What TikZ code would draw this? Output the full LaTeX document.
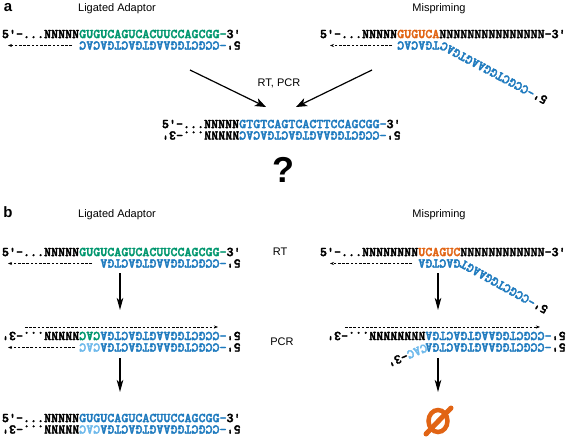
\documentclass[tikz,border=0pt]{standalone}
\usepackage{fontspec}
\setmainfont{Liberation Sans}
\newfontfamily\seqfont{lmmonolt10-bold.otf}[FakeBold=2.5]
\usetikzlibrary{arrows.meta}
\definecolor{sgreen}{RGB}{0,150,110}
\definecolor{sblue}{RGB}{30,122,190}
\definecolor{slight}{RGB}{110,185,235}
\definecolor{sorange}{RGB}{225,100,20}
\newcommand{\colG}[1]{\textcolor{sgreen}{#1}}
\newcommand{\colB}[1]{\textcolor{sblue}{#1}}
\newcommand{\colL}[1]{\textcolor{slight}{#1}}
\newcommand{\colO}[1]{\textcolor{sorange}{#1}}
\begin{document}
\begin{tikzpicture}[x=1pt,y=-1pt,
  seqtop/.style={font={\seqfont\fontsize{13.37}{14}\selectfont}, inner sep=0pt, outer sep=0pt, anchor=base west},
  seqbot/.style={seqtop, rotate=180},
  lab/.style={font={\fontsize{11}{13}\selectfont}, inner sep=0pt},
  panel/.style={font={\bfseries\fontsize{15}{16}\selectfont}, inner sep=0pt},
  bigarrow/.style={line width=1.2pt, -{Stealth[length=11pt,width=8.5pt,inset=3pt]}},
  downarrow/.style={line width=1.1pt, -{Stealth[length=12pt,width=6.5pt,inset=3pt]}},
  dasharrow/.style={line width=0.6pt, dash pattern=on 2.6pt off 1.6pt, -{Stealth[length=4pt,width=3pt]}},
]
\useasboundingbox (0,0) rectangle (567,441);

% ---------- panel a ----------
\node[panel] (pa) at (8,8) {a};
\node[lab] (taL) at (117,9) {Ligated Adaptor};
\node[lab] (taR) at (439,9) {Mispriming};

\node[seqtop] (aL1) at (2,38.1) {5'-...NNNNN\colG{GUGUCAGUCACUUCCAGCGG-}3'};
\node[seqbot] (aL2) at (240.68,41.4) {5'\colB{-CCGCTGGAAGTGACTGACAC}};
\coordinate (aLdS) at (72,45.5); \coordinate (aLdE) at (8,45.5);
\draw[dasharrow] (aLdS) -- (aLdE);

\node[seqtop] (aR1) at (320,38.1) {5'-...NNNNN\colO{GUGUCA}NNNNNNNNNNNNNNN-3'};
\node[seqbot] (aR2) at (439.34,41.4) {\colB{TGACAC}};
\node[seqtop, anchor=base east, rotate=152] (aR3) at (443,41.4) {5'\colB{-CCGCTGGAAGTGAC}};
\coordinate (aRdS) at (392,45.5); \coordinate (aRdE) at (330,45.5);
\draw[dasharrow] (aRdS) -- (aRdE);

\coordinate (aA1s) at (190,70); \coordinate (aA1e) at (266,107);
\coordinate (aA2s) at (372,70); \coordinate (aA2e) at (296,107);
\draw[bigarrow] (aA1s) -- (aA1e);
\draw[bigarrow] (aA2s) -- (aA2e);
\node[lab] (rtpcr) at (279,83) {RT, PCR};

\node[seqtop] (aM1) at (162,128.1) {5'-...NNNNN\colB{GTGTCAGTCACTTCCAGCGG-}3'};
\node[seqbot] (aM2) at (400.68,131.4) {5'\colB{-CCGCTGGAAGTGACTGACAC}NNNNN...-3'};
\node[font={\bfseries\fontsize{36}{40}\selectfont}, inner sep=0pt] (qm) at (283,170) {?};

% ---------- panel b ----------
\node[panel] (pb) at (8,212) {b};
\node[lab] (tbL) at (117,215) {Ligated Adaptor};
\node[lab] (tbR) at (439,215) {Mispriming};

% RT
\node[seqtop] (bL1) at (2,256.1) {5'-...NNNNN\colG{GUGUCAGUCACUUCCAGCGG-}3'};
\node[seqbot] (bL2) at (240.68,259.4) {5'\colB{-CCGCTGGAAGTGACTGA}};
\coordinate (bLdS) at (92,263.5); \coordinate (bLdE) at (8,263.5);
\draw[dasharrow] (bLdS) -- (bLdE);
\node[lab] (rt) at (280,252) {RT};

\node[seqtop] (bR1) at (320,256.1) {5'-...NNNNNNNN\colO{UCAGUC}NNNNNNNNNNNN-3'};
\node[seqbot] (bR2) at (460.4,259.4) {\colB{GACTGA}};
\node[seqtop, anchor=base east, rotate=151] (bR3) at (463,259.4) {5'\colB{-CCGCTGGAAGT}};
\coordinate (bRdS) at (412,263.5); \coordinate (bRdE) at (330,263.5);
\draw[dasharrow] (bRdS) -- (bRdE);

\coordinate (dL1s) at (120,273); \coordinate (dL1e) at (120,310);
\coordinate (dR1s) at (438,273); \coordinate (dR1e) at (438,310);
\draw[downarrow] (dL1s) -- (dL1e);
\draw[downarrow] (dR1s) -- (dR1e);

% PCR
\coordinate (pLtS) at (25,327); \coordinate (pLtE) at (218,327);
\draw[dasharrow] (pLtS) -- (pLtE);
\node[seqbot] (pL1) at (240.68,331.9) {5'\colB{-CCGCTGGAAGTGACTGA}\colG{CAC}NNNNN...-3'};
\node[seqbot] (pL2) at (240.68,343.4) {5'\colB{-CCGCTGGAAGTGACTGA}\colL{CAC}};
\coordinate (pLdS) at (75,347.5); \coordinate (pLdE) at (8,347.5);
\draw[dasharrow] (pLdS) -- (pLdE);
\node[lab] (pcr) at (282,342) {PCR};

\coordinate (pRtS) at (345,327); \coordinate (pRtE) at (540,327);
\draw[dasharrow] (pRtS) -- (pRtE);
\node[seqbot] (pR1) at (565.7,331.9) {5'\colB{-CCGCTGGAAGTGACTGA}NNNNNNNN...-3'};
\node[seqbot] (pR2) at (565.7,343.4) {5'\colB{-CCGCTGGAAGTGACTGA}};
\node[seqtop, rotate=203] (pR3) at (425.3,343.4) {\colL{CAC}-3'};

\coordinate (dL2s) at (120,358); \coordinate (dL2e) at (120,392);
\coordinate (dR2s) at (438,358); \coordinate (dR2e) at (438,392);
\draw[downarrow] (dL2s) -- (dL2e);
\draw[downarrow] (dR2s) -- (dR2e);

% final
\node[seqtop] (fL1) at (2,422.1) {5'-...NNNNN\colB{GUGUCAGUCACUUCCAGCGG-}3'};
\node[seqbot] (fL2) at (240.68,425.4) {5'\colB{-CCGCTGGAAGTGACTGA}\colL{CAC}NNNNN...-3'};

\coordinate (nul) at (438,421);
\draw[sorange, line width=4.5pt] (nul) ellipse [x radius=9.5, y radius=11];
\draw[sorange, line width=5pt, line cap=round] (426,434) -- (451,408);
\end{tikzpicture}
\end{document}
